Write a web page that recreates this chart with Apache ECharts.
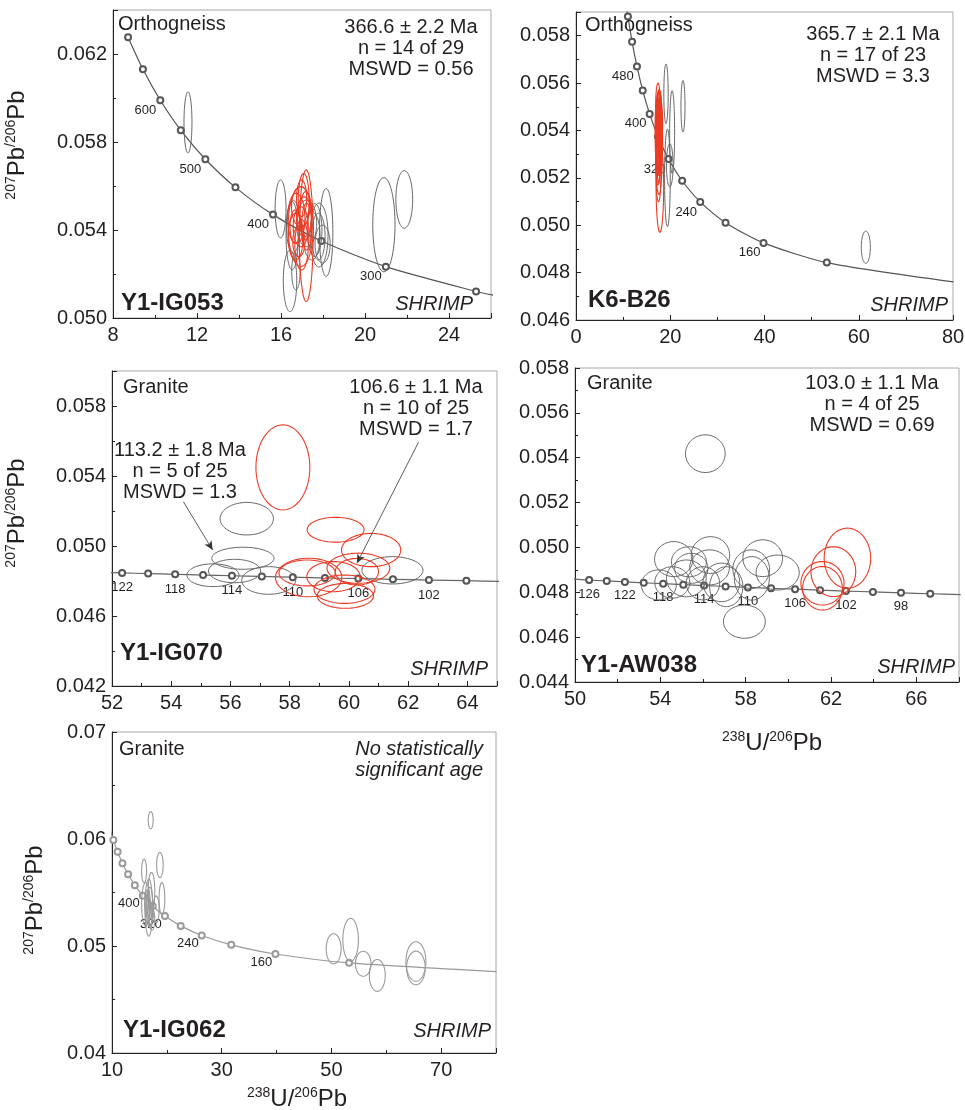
<!DOCTYPE html>
<html><head><meta charset="utf-8">
<script src="https://cdn.jsdelivr.net/npm/echarts@6/dist/echarts.min.js"></script>
<style>html,body{margin:0;padding:0;background:#fff}#c{width:965px;height:1110px}</style>
</head><body><div id="c"></div>
<script>
const FONT = "'Liberation Sans', Arial, sans-serif";

// Concordia points: [age (Ma), 238U/206Pb, 207Pb/206Pb]
const concordia50 = [[700,8.718,0.062765],[650,9.426,0.061305],[600,10.252,0.059899],[550,11.228,0.058537],[500,12.399,0.057217],[450,13.831,0.055939],[400,15.621,0.054699],[350,17.923,0.053498],[300,20.992,0.052334],[250,25.289,0.051205],[240,26.363,0.050983]];
const concordia40 = [[640,9.581,0.061022],[600,10.252,0.059899],[560,11.019,0.058809],[520,11.904,0.057743],[480,12.936,0.056704],[440,14.157,0.055689],[400,15.621,0.054699],[360,17.411,0.053736],[320,19.649,0.052795],[280,22.527,0.051878],[240,26.363,0.050983],[200,31.735,0.050108],[160,39.792,0.049255],[120,53.221,0.048423],[80,80.081,0.047612]];
const concordia2 = [[128,49.864,0.048588],[126,50.664,0.048546],[124,51.489,0.048505],[122,52.341,0.048464],[120,53.221,0.048423],[118,54.132,0.048382],[116,55.075,0.048341],[114,56.049,0.048300],[112,57.059,0.048260],[110,58.105,0.048218],[108,59.190,0.048178],[106,60.317,0.048137],[104,61.486,0.048096],[102,62.702,0.048055],[100,63.966,0.048017],[98,65.281,0.047974],[96,66.651,0.047934],[94,68.080,0.047893]];

// marker / label ages per panel
const p1MarkerAges = [700,650,600,550,500,450,400,350,300,250];
const p1LabelAges = [600,500,400,300];
const p2MarkerAges = [560,520,480,440,400,360,320,280,240,200,160,120];
const p2LabelAges = [480,400,320,240,160];
const p3MarkerAges = [122,120,118,116,114,112,110,108,106,104,102,100];
const p3LabelAges = [122,118,114,110,106,102];
const p4MarkerAges = [126,124,122,120,118,116,114,112,110,108,106,104,102,100,98,96];
const p4LabelAges = [126,122,118,114,110,106,102,98];
const p5MarkerAges = [600,560,520,480,440,400,360,320,280,240,200,160,120];
const p5LabelAges = [400,320,240,160];

// error ellipses: [centre 238U/206Pb, centre 207Pb/206Pb, half-width x, half-height y]
const p1Gray = [[11.57,0.05889,0.19,0.00139],[20.90,0.05424,0.53,0.00214],[21.87,0.05539,0.40,0.00131],[15.98,0.05496,0.26,0.00132],[16.43,0.05169,0.32,0.00140],[16.53,0.05374,0.29,0.00155],[18.15,0.05389,0.32,0.00200],[17.81,0.05377,0.43,0.00145],[17.78,0.05370,0.32,0.00106],[17.98,0.05336,0.36,0.00086],[17.22,0.05430,0.48,0.00106],[17.46,0.05374,0.40,0.00110],[16.58,0.05415,0.32,0.00120],[16.71,0.05211,0.20,0.00083],[17.60,0.05400,0.35,0.00120]];
const p1Red = [[17.20,0.05374,0.33,0.00299],[16.94,0.05415,0.60,0.00182],[16.73,0.05453,0.41,0.00114],[16.94,0.05506,0.44,0.00091],[17.10,0.05460,0.36,0.00091],[16.94,0.05415,0.36,0.00091],[16.70,0.05370,0.36,0.00106],[17.18,0.05465,0.28,0.00110],[16.98,0.05332,0.32,0.00114],[16.98,0.05544,0.24,0.00083],[16.67,0.05415,0.24,0.00076],[17.22,0.05415,0.24,0.00106],[16.85,0.05347,0.29,0.00068],[17.08,0.05536,0.26,0.00121]];
const p2Gray = [[19.1,0.05555,0.46,0.00126],[20.4,0.05393,0.53,0.00175],[22.7,0.05502,0.43,0.00109],[19.4,0.05200,0.60,0.00206],[19.9,0.05253,0.70,0.00091],[61.5,0.04907,0.96,0.00068]];
const p2Red = [[17.8,0.0516,0.8,0.0019],[17.4,0.0550,0.5,0.0010],[17.6,0.0545,0.6,0.0012],[17.7,0.0540,0.6,0.0011],[17.3,0.0537,0.5,0.0013],[17.5,0.0533,0.6,0.0012],[17.9,0.0536,0.5,0.0010],[17.4,0.0528,0.5,0.0011],[17.6,0.0525,0.6,0.0012],[17.8,0.0530,0.5,0.0009],[17.2,0.0543,0.4,0.0010],[17.7,0.0548,0.5,0.0009],[17.5,0.0520,0.5,0.0010],[17.4,0.0545,0.4,0.0011],[18.0,0.0543,0.4,0.0008],[17.3,0.0530,0.4,0.0009],[17.6,0.0538,0.7,0.0015],[17.5,0.0541,0.3,0.0009],[17.6,0.0531,0.3,0.0008],[17.4,0.0535,0.3,0.0012],[17.7,0.0544,0.3,0.0010],[17.5,0.0526,0.3,0.0008],[17.6,0.0549,0.3,0.0008]];
const p3Gray = [[56.55,0.05156,0.90,0.00093],[56.42,0.04930,1.05,0.00063],[55.41,0.04833,0.88,0.00065],[56.14,0.04857,0.88,0.00067],[57.29,0.04803,0.91,0.00079],[61.47,0.04861,1.03,0.00078]];
const p3Red = [[57.77,0.05449,0.91,0.00243],[59.55,0.05093,0.96,0.00071],[60.75,0.04977,1.00,0.00095],[58.64,0.04820,1.12,0.00110],[58.59,0.04846,0.95,0.00074],[59.48,0.04825,0.90,0.00086],[59.85,0.04753,1.03,0.00081],[59.88,0.04715,0.95,0.00071],[60.32,0.04873,1.06,0.00086],[60.27,0.04853,0.73,0.00076]];
const p4Gray = [[56.11,0.05418,0.93,0.00084],[57.94,0.04669,0.98,0.00074],[54.63,0.04948,0.90,0.00078],[55.34,0.04936,0.82,0.00067],[56.35,0.04966,0.90,0.00082],[55.45,0.04907,0.78,0.00067],[56.31,0.04911,0.93,0.00078],[58.26,0.04903,0.86,0.00086],[58.80,0.04952,0.93,0.00082],[59.50,0.04888,1.01,0.00078],[54.56,0.04844,0.82,0.00070],[55.22,0.04862,0.93,0.00082],[56.86,0.04844,0.86,0.00086],[57.09,0.04825,0.78,0.00089],[58.29,0.04862,0.82,0.00097],[56.00,0.04840,0.78,0.00074],[53.93,0.04833,0.82,0.00067]];
const p4Red = [[62.77,0.04952,1.09,0.00134],[62.11,0.04892,1.05,0.00111],[61.60,0.04840,1.01,0.00097],[61.60,0.04818,0.93,0.00097]];
const p5Gray = [[17.05,0.06176,0.45,0.00081],[18.73,0.05758,0.60,0.00117],[15.85,0.05702,0.45,0.00110],[19.10,0.05444,0.52,0.00149],[17.20,0.05515,0.60,0.00172],[16.70,0.05359,0.70,0.00266],[16.15,0.05390,0.75,0.00204],[18.05,0.05343,0.55,0.00125],[16.90,0.05400,0.50,0.00150],[16.50,0.05320,0.40,0.00120],[17.30,0.05250,0.50,0.00100],[16.60,0.05370,0.35,0.00160],[16.90,0.05300,0.35,0.00130],[16.30,0.05410,0.35,0.00110],[50.40,0.04974,1.36,0.00141],[53.50,0.05058,1.42,0.00200],[55.80,0.04834,1.42,0.00117],[58.36,0.04725,1.45,0.00149],[65.40,0.04855,1.82,0.00185],[65.40,0.04795,1.70,0.00157]];

// arrows in Y1-IG070: [x0, y0, x1, y1]
const p3Arrows = [[54.41,0.05253,55.40,0.04977],[62.35,0.05593,60.27,0.04901]];

// axis tick labels
const p1XTicks=[8,12,16,20,24], p1YTicks=[0.050,0.054,0.058,0.062];
const p2XTicks=[0,20,40,60,80], p2YTicks=[0.046,0.048,0.050,0.052,0.054,0.056,0.058];
const p3XTicks=[52,54,56,58,60,62,64], p3YTicks=[0.042,0.046,0.050,0.054,0.058];
const p4XTicks=[50,54,58,62,66], p4YTicks=[0.044,0.046,0.048,0.050,0.052,0.054,0.056,0.058];
const p5XTicks=[10,30,50,70], p5YTicks=[0.04,0.05,0.06,0.07];

const grids = [
  {left:113, top:10, width:378, height:308},
  {left:576, top:12, width:377, height:308},
  {left:112, top:371, width:385, height:315},
  {left:575, top:368, width:384, height:314},
  {left:112, top:732, width:384, height:321}
];
const xSpec = [[8,26,4,p1XTicks,0],[0,80,20,p2XTicks,0],[52,65,2,p3XTicks,0],[50,68,4,p4XTicks,0],[10,80,20,p5XTicks,0]];
const ySpec = [[0.050,0.064,0.004,p1YTicks,3],[0.046,0.059,0.002,p2YTicks,3],[0.042,0.060,0.004,p3YTicks,3],[0.044,0.058,0.002,p4YTicks,3],[0.04,0.07,0.01,p5YTicks,2]];

const TXT = '#231f20';
function makeAxis(spec, i, isX) {
  const [min,max,interval,ticks,dec] = spec;
  return {
    type:'value', gridIndex:i, min, max, interval,
    axisLine:{show:true, onZero:false, lineStyle:{color:'#222', width:1}},
    axisTick:{show:true, inside:true, length:5, lineStyle:{color:'#222', width:1}},
    minorTick:{show:true, splitNumber:2, length:3, lineStyle:{color:'#222', width:1}},
    splitLine:{show:false}, minorSplitLine:{show:false},
    axisLabel:{fontSize:20, color:TXT, fontFamily:FONT, margin: isX ? 7 : 6,
      formatter: v => { const t = ticks.find(t => Math.abs(t - v) < 1e-7); return t === undefined ? '' : t.toFixed(dec); }}
  };
}

function concordiaData(points, markerAges, labelAges, offset) {
  return points.map(([age,x,y]) => {
    const item = {value:[x,y]};
    if (!markerAges.includes(age)) item.symbol = 'none';
    if (labelAges.includes(age)) item.label = {show:true, formatter:String(age), position:'inside', offset, fontSize:13, color:TXT, fontFamily:FONT};
    return item;
  });
}
function concordiaSeries(i, data, color, markerColor, extra) {
  return Object.assign({
    type:'line', xAxisIndex:i, yAxisIndex:i, data, smooth:0.25, clip:true, silent:true,
    symbol:'emptyCircle', symbolSize:6, z:2,
    lineStyle:{color, width:1.2}, itemStyle:{color:markerColor, borderColor:markerColor, borderWidth:1.5}
  }, extra || {});
}
function ellipseSeries(i, data, color, width) {
  return {
    type:'custom', coordinateSystem:'cartesian2d', xAxisIndex:i, yAxisIndex:i, data,
    dimensions:['x','y','rx','ry'], encode:{x:0, y:1}, silent:true, z:3,
    renderItem(params, api) {
      const cx = api.value(0), cy = api.value(1), rx = api.value(2), ry = api.value(3);
      const pts = [];
      for (let k = 0; k < 72; k++) { const t = k / 72 * Math.PI * 2; pts.push(api.coord([cx + rx * Math.cos(t), cy + ry * Math.sin(t)])); }
      const cs = params.coordSys;
      return {type:'polygon', shape:{points:pts}, style:{fill:'none', stroke:color, lineWidth:width},
        clipPath:{type:'rect', shape:{x:cs.x, y:cs.y, width:cs.width, height:cs.height}}};
    }
  };
}

const GRAY = '#666', RED = '#ec3b24', LIGHT = '#9a9a9a';
const series = [
  concordiaSeries(0, concordiaData(concordia50, p1MarkerAges, p1LabelAges, [-15,10]), '#555', '#555'),
  ellipseSeries(0, p1Gray, GRAY, 1), ellipseSeries(0, p1Red, RED, 1.1),
  concordiaSeries(1, concordiaData(concordia40.slice(1), p2MarkerAges, p2LabelAges, [-14,10]), '#555', '#555'),
  ellipseSeries(1, p2Gray, GRAY, 1), ellipseSeries(1, p2Red, RED, 1.1),
  concordiaSeries(2, concordiaData(concordia2.slice(2,16), p3MarkerAges, p3LabelAges, [0,15]), '#666', '#555', {
    markLine:{silent:true, symbol:['none','arrow'], symbolSize:[6,9], label:{show:false},
      lineStyle:{color:'#333', width:0.8, type:'solid'},
      data: p3Arrows.map(a => [{coord:[a[0],a[1]]},{coord:[a[2],a[3]]}])}
  }),
  ellipseSeries(2, p3Gray, GRAY, 1), ellipseSeries(2, p3Red, RED, 1.1),
  concordiaSeries(3, concordiaData(concordia2, p4MarkerAges, p4LabelAges, [0,14]), '#666', '#555'),
  ellipseSeries(3, p4Gray, GRAY, 1), ellipseSeries(3, p4Red, RED, 1.1),
  concordiaSeries(4, concordiaData(concordia40, p5MarkerAges, p5LabelAges, [-14,8]), LIGHT, LIGHT),
  ellipseSeries(4, p5Gray, LIGHT, 1.1)
];

function txt(x, y, text, o) {
  o = o || {};
  return {type:'text', x, y, silent:true, z:50, rotation:o.rot || 0,
    style:{text, fontSize:o.size || 20, fontFamily:FONT, fontWeight:o.weight || 'normal', fontStyle:o.style || 'normal',
      fill:TXT, align:o.align || 'left', textAlign:o.align || 'left', verticalAlign:'middle', textVerticalAlign:'middle',
      lineHeight:o.lh || 21, rich:o.rich}};
}
const supRich = {s:{fontSize:14, lineHeight:14, verticalAlign:'top', fontFamily:FONT, fill:TXT}, m:{fontSize:24, lineHeight:26, fontFamily:FONT, fill:TXT}};
const yTitle = '{s|207}{m|Pb}{s|/206}{m|Pb}';
const xTitle = '{s|238}{m|U/}{s|206}{m|Pb}';

const graphics = [
  txt(118,24,'Orthogneiss'), txt(411,48,'366.6 ± 2.2 Ma\nn = 14 of 29\nMSWD = 0.56',{align:'center'}),
  txt(121,303,'Y1-IG053',{weight:'bold',size:24}), txt(473,304,'SHRIMP',{style:'italic',align:'right'}),
  txt(585,25,'Orthogneiss'), txt(873,55,'365.7 ± 2.1 Ma\nn = 17 of 23\nMSWD = 3.3',{align:'center'}),
  txt(588,300,'K6-B26',{weight:'bold',size:24}), txt(948,305,'SHRIMP',{style:'italic',align:'right'}),
  txt(123,387,'Granite'), txt(416,408,'106.6 ± 1.1 Ma\nn = 10 of 25\nMSWD = 1.7',{align:'center'}),
  txt(180,471,'113.2 ± 1.8 Ma\nn = 5 of 25\nMSWD = 1.3',{align:'center'}),
  txt(120,653,'Y1-IG070',{weight:'bold',size:24}), txt(488,669,'SHRIMP',{style:'italic',align:'right'}),
  txt(587,383,'Granite'), txt(872,404,'103.0 ± 1.1 Ma\nn = 4 of 25\nMSWD = 0.69',{align:'center'}),
  txt(581,665,'Y1-AW038',{weight:'bold',size:24}), txt(955,667,'SHRIMP',{style:'italic',align:'right'}),
  txt(119,749,'Granite'), txt(483,760,'No statistically\nsignificant age',{style:'italic',align:'right'}),
  txt(123,1030,'Y1-IG062',{weight:'bold',size:24}), txt(491,1031,'SHRIMP',{style:'italic',align:'right'}),
  txt(17,145,yTitle,{rot:Math.PI/2,align:'center',rich:supRich}),
  txt(17,513,yTitle,{rot:Math.PI/2,align:'center',rich:supRich}),
  txt(35,900,yTitle,{rot:Math.PI/2,align:'center',rich:supRich}),
  txt(772,743,xTitle,{align:'center',rich:supRich}),
  txt(297,1099,xTitle,{align:'center',rich:supRich})
];

const chart = echarts.init(document.getElementById('c'), null, {renderer:'canvas'});
chart.setOption({
  animation:false, backgroundColor:'#fff',
  grid: grids.map(g => Object.assign({show:true, borderColor:'#a8a8a8', borderWidth:1, backgroundColor:'transparent', containLabel:false, outerBoundsMode:'none'}, g)),
  xAxis: xSpec.map((s,i) => makeAxis(s,i,true)),
  yAxis: ySpec.map((s,i) => makeAxis(s,i,false)),
  series,
  graphic:{elements:graphics}
});
</script></body></html>
